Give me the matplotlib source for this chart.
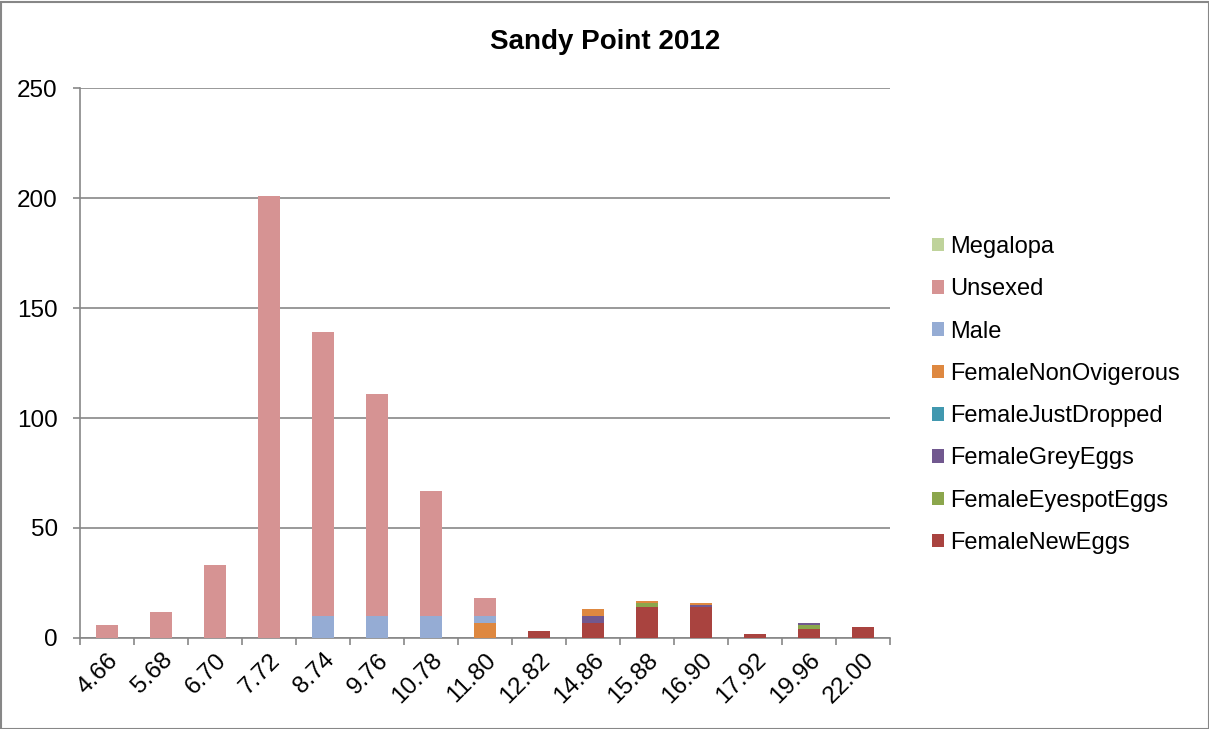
import numpy as np
import matplotlib.pyplot as plt
from matplotlib.patches import Rectangle

plt.rcParams['font.family'] = ['Liberation Sans', 'DejaVu Sans']

# carapace width classes
sizes = ['4.66', '5.68', '6.70', '7.72', '8.74', '9.76', '10.78', '11.80',
         '12.82', '14.86', '15.88', '16.90', '17.92', '19.96', '22.00']

# counts per class, stacked bottom to top
female_new_eggs      = [0, 0, 0, 0, 0, 0, 0, 0, 3, 7, 14, 14, 2, 4, 5]
female_eyespot_eggs  = [0, 0, 0, 0, 0, 0, 0, 0, 0, 0, 2, 0, 0, 2, 0]
female_grey_eggs     = [0, 0, 0, 0, 0, 0, 0, 0, 0, 3, 0, 1, 0, 1, 0]
female_just_dropped  = [0, 0, 0, 0, 0, 0, 0, 0, 0, 0, 0, 0, 0, 0, 0]
female_non_ovigerous = [0, 0, 0, 0, 0, 0, 0, 7, 0, 3, 1, 1, 0, 0, 0]
male                 = [0, 0, 0, 0, 10, 10, 10, 3, 0, 0, 0, 0, 0, 0, 0]
unsexed              = [6, 12, 33, 201, 129, 101, 57, 8, 0, 0, 0, 0, 0, 0, 0]
megalopa             = [0, 0, 0, 0, 0, 0, 0, 0, 0, 0, 0, 0, 0, 0, 0]

series = [
    ('FemaleNewEggs', female_new_eggs, '#A9433F'),
    ('FemaleEyespotEggs', female_eyespot_eggs, '#8BA64C'),
    ('FemaleGreyEggs', female_grey_eggs, '#71588F'),
    ('FemaleJustDropped', female_just_dropped, '#4198AF'),
    ('FemaleNonOvigerous', female_non_ovigerous, '#DE8840'),
    ('Male', male, '#95ACD4'),
    ('Unsexed', unsexed, '#D69393'),
    ('Megalopa', megalopa, '#BFD39B'),
]

fig = plt.figure(figsize=(12.09, 7.29), dpi=100)
ax = fig.add_axes([80 / 1209, 1 - 638 / 729, 810 / 1209, 550 / 729])

x = np.arange(len(sizes))
bottom = np.zeros(len(sizes))
for name, vals, color in series:
    ax.bar(x, vals, width=0.4, bottom=bottom, color=color, label=name,
           edgecolor='none', zorder=3)
    bottom += np.array(vals)

ax.set_xlim(-0.5, len(sizes) - 0.5)
ax.set_ylim(0, 250)
ax.set_yticks(range(0, 251, 50))
ax.yaxis.grid(True, color='#878787', linewidth=1.2, zorder=0)

ax.set_xticks(x)
ax.set_xticklabels(sizes, rotation=45, ha='right', va='top',
                   rotation_mode='anchor', fontsize=17.5)
ax.tick_params(axis='x', length=0, pad=8)
ax.set_xticks(np.arange(-0.5, len(sizes)), minor=True)
ax.tick_params(axis='x', which='minor', length=5, width=1.2, color='#878787')
ax.tick_params(axis='y', length=5, width=1.2, color='#878787', labelsize=17.5, pad=11)

for side in ['top', 'right']:
    ax.spines[side].set_visible(False)
for side in ['left', 'bottom']:
    ax.spines[side].set_color('#878787')
    ax.spines[side].set_linewidth(1.2)

fig.text(605 / 1209, 1 - 42 / 729, 'Sandy Point 2012', ha='center', va='center',
         fontsize=20, fontweight='bold')

handles, labels = ax.get_legend_handles_labels()
leg = fig.legend(handles[::-1], labels[::-1], loc='center left',
                 bbox_to_anchor=(932 / 1209, 1 - 395 / 729), frameon=False,
                 fontsize=17, handlelength=0.5, handleheight=0.5,
                 handletextpad=0.25, labelspacing=0.86, borderaxespad=0,
                 borderpad=0)

# outer chart border
fig.patches.append(Rectangle((0.5 / 1209, 0), 1 - 1 / 1209, 1 - 1.5 / 729,
                             transform=fig.transFigure, fill=False,
                             edgecolor='#878787', linewidth=1.5))

fig.savefig('out.png', dpi=100)
